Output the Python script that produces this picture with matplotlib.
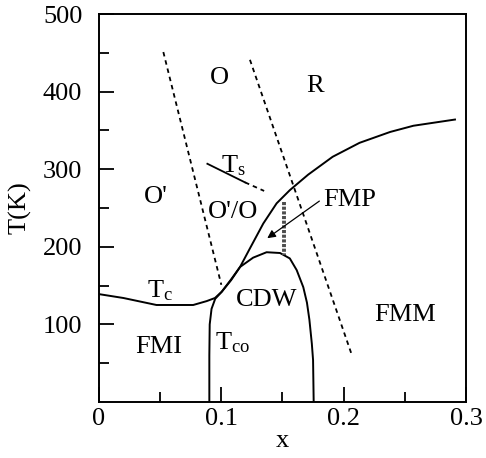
import numpy as np
import matplotlib.pyplot as plt

plt.rcParams['font.family'] = ['Liberation Serif', 'DejaVu Serif']
plt.rcParams['mathtext.fontset'] = 'custom'
plt.rcParams['mathtext.rm'] = 'Liberation Serif'
plt.rcParams['mathtext.it'] = 'Liberation Serif:italic'

# curva Tc (transicao ferromagnetica)
tc_x = [0.0, 0.02, 0.047, 0.077, 0.088, 0.0948, 0.1003, 0.108, 0.1153, 0.1234, 0.1343,
        0.1452, 0.156, 0.171, 0.191, 0.213, 0.238, 0.257, 0.291]
tc_T = [139, 134, 125, 125, 130, 134, 142, 157, 174, 198, 230,
        256, 273, 293, 316, 334, 348, 356, 364]

# cupula CDW (Tco)
cdw_x = [0.0902, 0.0902, 0.0905, 0.092, 0.095, 0.1003, 0.108, 0.1153, 0.126, 0.137,
         0.148, 0.156, 0.1616, 0.167, 0.170, 0.172, 0.174, 0.175, 0.1755]
cdw_T = [0, 60, 100, 120, 133, 142, 158, 174, 186, 193,
         192, 185, 170, 148, 128, 106, 75, 54, 0]

# linhas tracejadas (fronteiras estruturais)
d1_x = [0.0526, 0.100]
d1_T = [451, 151]
d2_x = [0.1234, 0.2066]
d2_T = [441, 61]

# linha Ts
ts_x = [0.0886, 0.1194]
ts_T = [307, 283]
ts_dash_x = [0.1194, 0.135]
ts_dash_T = [283, 272]

# faixa FMP
fmp_x = [0.1512, 0.1512]
fmp_T = [258, 189]

# rotulos das fases
rotulos = ['O', 'R', "O'", 'T$_\\mathrm{s}$', "O'/O", 'FMP', 'T$_\\mathrm{c}$',
           'CDW', 'FMM', 'FMI', 'T$_\\mathrm{co}$']
rot_x = [0.0984, 0.1766, 0.0465, 0.110, 0.110, 0.205, 0.050, 0.137, 0.250, 0.0485, 0.109]
rot_T = [418, 407, 264, 305, 245, 260, 144, 131, 112, 71, 76]

fig = plt.figure(figsize=(4.86, 4.58), dpi=100)
ax = fig.add_axes([0.2037, 0.1223, 0.7551, 0.8471])

ax.plot(tc_x, tc_T, 'k-', lw=1.4)
ax.plot(cdw_x, cdw_T, 'k-', lw=1.4)
ax.plot(d1_x, d1_T, 'k--', lw=1.3, dashes=(2.5, 2.2))
ax.plot(d2_x, d2_T, 'k--', lw=1.3, dashes=(2.5, 2.2))
ax.plot(ts_x, ts_T, 'k-', lw=1.3)
ax.plot(ts_dash_x, ts_dash_T, 'k--', lw=1.3, dashes=(2.5, 2.2))
ax.plot(fmp_x, fmp_T, color='0.3', lw=2.8, dashes=(0.8, 0.4))

for s, xx, yy in zip(rotulos, rot_x, rot_T):
    ax.text(xx, yy, s, fontsize=19, ha='center', va='center')

ax.annotate('', xy=(0.1357, 209), xytext=(0.182, 261),
            arrowprops=dict(arrowstyle='-|>', color='k', lw=0.9, mutation_scale=12))

ax.set_xlim(0, 0.3)
ax.set_ylim(0, 500)
ax.set_xticks([0, 0.1, 0.2, 0.3])
ax.set_xticklabels(['0', '0.1', '0.2', '0.3'])
ax.set_xticks([0.05, 0.15, 0.25], minor=True)
ax.set_yticks([100, 200, 300, 400, 500])
ax.set_yticks([50, 150, 250, 350, 450], minor=True)
ax.tick_params(which='major', direction='in', length=11, width=1.3, labelsize=19)
ax.tick_params(which='minor', direction='in', length=7.5, width=1.3)
ax.tick_params(axis='x', which='major', pad=4)
ax.tick_params(axis='y', which='major', pad=12)
for sp in ax.spines.values():
    sp.set_linewidth(1.4)

ax.set_xlabel('x', fontsize=19, labelpad=0)
ax.set_ylabel('T(K)', fontsize=19, labelpad=8)

fig.savefig('out.png', dpi=100)
